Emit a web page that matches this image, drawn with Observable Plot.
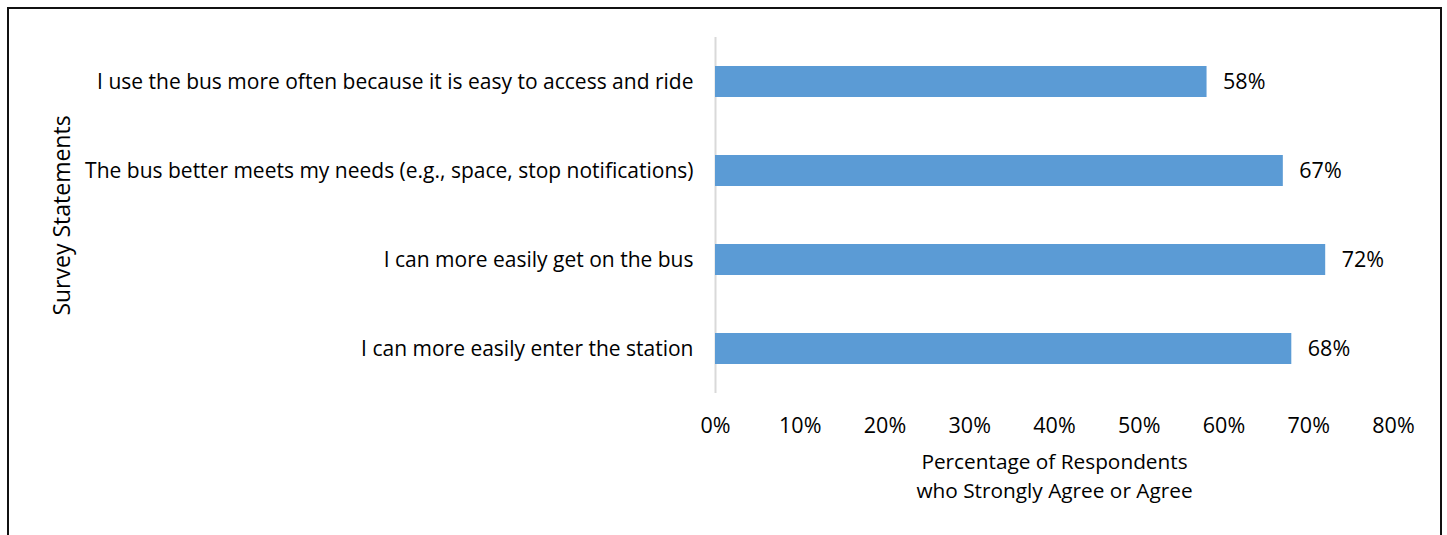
<!DOCTYPE html>
<html>
<head>
<meta charset="utf-8">
<script src="https://cdn.jsdelivr.net/npm/d3@7"></script>
<script src="https://cdn.jsdelivr.net/npm/@observablehq/plot@0.6"></script>
<style>
  html, body { margin: 0; padding: 0; background: #fff; overflow: hidden; }
  #wrap { position: relative; width: 1447px; height: 535px; }
  #frame { position: absolute; left: 7px; top: 7px; width: 1431px; height: 600px;
           border: 2px solid #111; border-bottom: none; pointer-events: none; }
</style>
</head>
<body>
<div id="wrap"><div id="frame"></div></div>
<script>
const statements = [
  "I use the bus more often because it is easy to access and ride",
  "The bus better meets my needs (e.g., space, stop notifications)",
  "I can more easily get on the bus",
  "I can more easily enter the station"
];
const values = [0.58, 0.67, 0.72, 0.68];
const xTicks = [0, 0.1, 0.2, 0.3, 0.4, 0.5, 0.6, 0.7, 0.8];
const xTitle = "Percentage of Respondents\nwho Strongly Agree or Agree";
const yTitle = "Survey Statements";

const data = statements.map((s, i) => ({statement: s, value: values[i]}));
const fmt = d3.format(".0%");

const chart = Plot.plot({
  width: 1447,
  height: 535,
  marginLeft: 715,
  marginRight: 54,
  marginTop: 37,
  marginBottom: 142,
  style: {fontFamily: "'Open Sans', sans-serif", fontSize: "21px", color: "#000", background: "transparent"},
  x: {domain: [0, 0.8], axis: null},
  y: {domain: statements, paddingInner: 0.65, paddingOuter: 0.325, axis: null},
  marks: [
    Plot.ruleX([0], {stroke: "#d9d9d9", strokeWidth: 2}),
    Plot.barX(data, {x: "value", y: "statement", fill: "#5B9BD5"}),
    Plot.text(data, {x: "value", y: "statement", text: d => fmt(d.value), textAnchor: "start", dx: 16, fill: "#000", fontSize: 21.5}),
    Plot.axisY({tickSize: 0, tickPadding: 22, label: null, fill: "#000", fontSize: 21}),
    Plot.axisX({ticks: xTicks, tickFormat: fmt, tickSize: 0, tickPadding: 24, label: null, fill: "#000", fontSize: 21.5}),
    Plot.text([xTitle], {frameAnchor: "bottom", text: d => d, dy: 55, lineHeight: 1.4, lineAnchor: "top", fill: "#000", fontSize: 20.8}),
    Plot.text([yTitle], {frameAnchor: "left", text: d => d, rotate: -90, textAnchor: "middle", dx: -653, fill: "#000", fontSize: 23})
  ]
});
document.getElementById("wrap").prepend(chart);
</script>
</body>
</html>
